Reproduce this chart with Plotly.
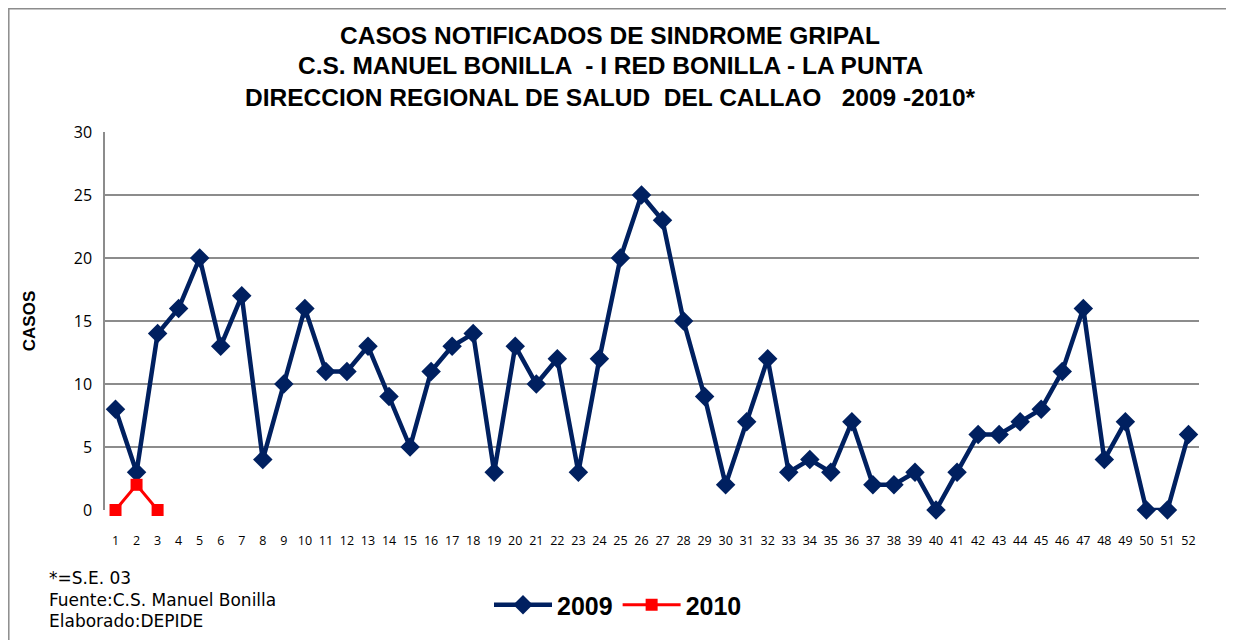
import plotly.graph_objects as go

weeks = list(range(1, 53))
week_labels = [str(w) for w in weeks]
cases_2009 = [8, 3, 14, 16, 20, 13, 17, 4, 10, 16, 11, 11, 13, 9, 5, 11, 13, 14, 3, 13,
              10, 12, 3, 12, 20, 25, 23, 15, 9, 2, 7, 12, 3, 4, 3, 7, 2, 2, 3, 0,
              3, 6, 6, 7, 8, 11, 16, 4, 7, 0, 0, 6]
weeks_2010 = [1, 2, 3]
cases_2010 = [0, 2, 0]

title_lines = ["CASOS NOTIFICADOS DE SINDROME GRIPAL",
               "C.S. MANUEL BONILLA  - I RED BONILLA - LA PUNTA",
               "DIRECCION REGIONAL DE SALUD  DEL CALLAO   2009 -2010*"]
notes = ["*=S.E. 03", "Fuente:C.S. Manuel Bonilla", "Elaborado:DEPIDE"]

NAVY = "#002060"
RED = "#FF0000"
FONT = "Liberation Sans, Arial"

fig = go.Figure()
fig.add_trace(go.Scatter(x=weeks, y=cases_2009, name="<b>2009</b>", mode="lines+markers",
                         line=dict(color=NAVY, width=4.5), cliponaxis=False,
                         marker=dict(symbol="diamond", size=15, color=NAVY)))
fig.add_trace(go.Scatter(x=weeks_2010, y=cases_2010, name="<b>2010</b>", mode="lines+markers",
                         line=dict(color=RED, width=3), cliponaxis=False,
                         marker=dict(symbol="square", size=12, color=RED)))

# page body has an 8px margin; work in screenshot coordinates and compensate
OFF = 8
W, H = 1234 - OFF, 640 - OFF
PL, PR, PT, PB = 105, 1199, 132, 510  # plot area in screenshot coordinates
L, T = PL - OFF, PT - OFF
R = W - (PR - OFF)
B = H - (PB - OFF)
pw, ph = PR - PL, PB - PT

def px(x):
    return (x - PL) / pw

def py(y):
    return (PB - y) / ph

annotations = []
for i, t in enumerate(title_lines):
    annotations.append(dict(text="<b>" + t + "</b>", x=px(610), y=py(35 + 31 * i),
                             xref="paper", yref="paper", showarrow=False,
                             xanchor="center", yanchor="middle",
                             font=dict(family=FONT, size=24.5, color="black")))
for i, t in enumerate(notes):
    annotations.append(dict(text=t, x=px(47), y=py(578 + 21.5 * i),
                            xref="paper", yref="paper", showarrow=False,
                            xanchor="left", yanchor="middle",
                            font=dict(family="DejaVu Sans", size=17, color="black")))

fig.update_layout(
    width=W, height=H,
    margin=dict(l=L, r=R, t=T, b=B, autoexpand=False),
    paper_bgcolor="white", plot_bgcolor="white",
    showlegend=True,
    legend=dict(orientation="h", x=px(618), xanchor="center", y=py(605), yanchor="middle",
                font=dict(family="Liberation Sans, Arial", size=25, color="black"),
                itemwidth=58, traceorder="normal"),
    annotations=annotations,
    shapes=[dict(type="rect", xref="paper", yref="paper",
                 x0=px(8.8), x1=px(1228), y0=py(660), y1=py(8.8),
                 line=dict(color="#8c8c8c", width=1.5), fillcolor="rgba(0,0,0,0)",
                 layer="below")],
)
fig.update_xaxes(range=[0.5, 52.5], tickmode="array", tickvals=weeks, ticktext=week_labels,
                 showgrid=False, showline=False, zeroline=False, ticks="",
                 tickfont=dict(family="Open Sans, Liberation Sans", size=12.5, color="black"),
                 ticklabelstandoff=21)
fig.update_yaxes(range=[0, 30], dtick=5, showgrid=True, gridcolor="#8c8c8c", gridwidth=1.5,
                 showline=True, linecolor="#8c8c8c", linewidth=1.5, zeroline=False,
                 ticks="", tickfont=dict(family="Open Sans, Liberation Sans", size=16, color="black"),
                 ticklabelstandoff=8,
                 title=dict(text="<b>CASOS</b>", font=dict(family=FONT, size=17, color="black"),
                            standoff=34))

fig.write_html("out.html")
